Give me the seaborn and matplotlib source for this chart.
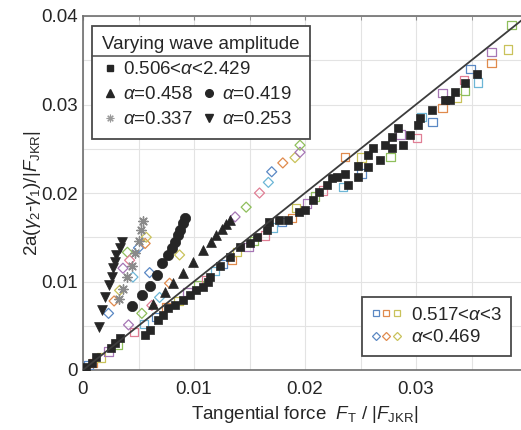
import numpy as np
import pandas as pd
import seaborn as sns
import matplotlib.pyplot as plt
from matplotlib.lines import Line2D
from matplotlib.ticker import MultipleLocator, FuncFormatter
from matplotlib.legend_handler import HandlerTuple

# ---- data ----
# filled squares, 0.506<alpha<2.429
sq_x = [0.0003, 0.0008, 0.0012, 0.0025, 0.0029, 0.0033, 0.0056, 0.006, 0.0068, 0.0072,
        0.0077, 0.0083, 0.009, 0.0096, 0.0102, 0.0108, 0.0113, 0.0114, 0.0123, 0.0132,
        0.0141, 0.015, 0.0157, 0.0166, 0.0168, 0.0177, 0.0185, 0.0195, 0.02, 0.0207,
        0.0213, 0.022, 0.0224, 0.0229, 0.0239, 0.0236, 0.0248, 0.0248, 0.0257, 0.0257,
        0.0261, 0.0268, 0.0272, 0.0278, 0.0278, 0.0284, 0.0288, 0.0295, 0.0302, 0.0304,
        0.0314, 0.0326, 0.0331, 0.0335, 0.0344, 0.0355]
sq_y = [0.0003, 0.0008, 0.0015, 0.0025, 0.003, 0.0036, 0.004, 0.0045, 0.0056, 0.0062,
        0.007, 0.0073, 0.0079, 0.0085, 0.009, 0.0094, 0.01, 0.0105, 0.0117, 0.0128,
        0.0139, 0.0143, 0.015, 0.0158, 0.0167, 0.0169, 0.0169, 0.0179, 0.0181, 0.0192,
        0.0201, 0.0209, 0.0217, 0.0218, 0.0209, 0.0222, 0.0218, 0.0231, 0.0229, 0.0243,
        0.0251, 0.0237, 0.0254, 0.0251, 0.0263, 0.0273, 0.0254, 0.0266, 0.0277, 0.0285,
        0.0294, 0.0305, 0.0305, 0.0314, 0.0324, 0.0335]

# filled triangles up, alpha=0.458
tri_x = [0.0063, 0.0074, 0.0081, 0.009, 0.0099, 0.0108, 0.0115, 0.012, 0.0125, 0.0129, 0.0132]
tri_y = [0.0075, 0.0088, 0.0098, 0.011, 0.0122, 0.0136, 0.0145, 0.0152, 0.0159, 0.0165, 0.017]

# filled circles, alpha=0.419
cir_x = [0.0044, 0.0053, 0.006, 0.0067, 0.0071, 0.0077, 0.008, 0.0083, 0.0086, 0.0087, 0.009, 0.0092]
cir_y = [0.0072, 0.0085, 0.0095, 0.0107, 0.0121, 0.013, 0.0138, 0.0145, 0.0153, 0.0158, 0.0166, 0.0172]

# asterisks, alpha=0.337
ast_x = [0.0032, 0.0036, 0.004, 0.0044, 0.0047, 0.005, 0.0052, 0.0054]
ast_y = [0.008, 0.0092, 0.0105, 0.0118, 0.0132, 0.0146, 0.0158, 0.0168]

# filled triangles down, alpha=0.253
tdn_x = [0.0014, 0.0017, 0.002, 0.0023, 0.0026, 0.0027, 0.0029, 0.003, 0.0033, 0.0035]
tdn_y = [0.0049, 0.0068, 0.0083, 0.0096, 0.0105, 0.0115, 0.0122, 0.013, 0.0138, 0.0145]

# open squares, 0.517<alpha<3
osq_x = [0.0005, 0.0009, 0.0016, 0.0023, 0.0031, 0.0046, 0.0055, 0.0066, 0.0075, 0.0086,
         0.0094, 0.0104, 0.0111, 0.0119, 0.0126, 0.0134, 0.0139, 0.0149, 0.0154, 0.0164,
         0.0171, 0.0179, 0.0188, 0.0192, 0.0202, 0.0209, 0.0216,
         0.0234, 0.0251, 0.0236, 0.0251, 0.0286, 0.0277, 0.0301, 0.0305, 0.0315, 0.0324,
         0.0337, 0.0324, 0.0344, 0.0343, 0.0356, 0.0349, 0.0368, 0.0383, 0.0368, 0.0386]
osq_y = [0.0006, 0.0008, 0.0014, 0.0021, 0.0029, 0.0043, 0.0052, 0.006, 0.0071, 0.0078,
         0.0088, 0.0096, 0.0102, 0.0112, 0.012, 0.0124, 0.0133, 0.0139, 0.0146, 0.0152,
         0.0161, 0.0167, 0.0172, 0.0183, 0.0188, 0.0196, 0.0203,
         0.0207, 0.0222, 0.0241, 0.024, 0.0266, 0.0241, 0.0262, 0.0286, 0.028, 0.0296,
         0.0307, 0.0313, 0.0316, 0.0328, 0.0325, 0.034, 0.0347, 0.0362, 0.0359, 0.039]

# open diamonds, alpha<0.469
dia_x = [0.0023, 0.0028, 0.0033, 0.0036, 0.004, 0.0042, 0.0045, 0.005, 0.0056, 0.0057,
         0.0041, 0.0053, 0.0062, 0.0069, 0.006, 0.0078, 0.0087,
         0.0137, 0.0147, 0.0159, 0.0167, 0.017, 0.018, 0.0191, 0.01955, 0.01955]
dia_y = [0.0064, 0.0078, 0.009, 0.0115, 0.0133, 0.0124, 0.0105, 0.0138, 0.0143, 0.015,
         0.0051, 0.0064, 0.0073, 0.0082, 0.011, 0.0098, 0.013,
         0.0173, 0.0184, 0.02, 0.0212, 0.0224, 0.0234, 0.024, 0.0246, 0.0254]

# y = x reference line
ref_x = [0.0, 0.04]
ref_y = [0.0, 0.04]

x_ticks = [0, 0.01, 0.02, 0.03]
y_ticks = [0, 0.01, 0.02, 0.03, 0.04]

# ---- style ----
sns.set_style("white")
plt.rcParams['font.family'] = ['Liberation Sans', 'DejaVu Sans']
plt.rcParams['mathtext.fontset'] = 'custom'
plt.rcParams['mathtext.rm'] = 'Liberation Sans'
plt.rcParams['mathtext.it'] = 'Liberation Sans:italic'
plt.rcParams['mathtext.bf'] = 'Liberation Sans:bold'
FS = 13.5
dark = '#262626'
pal = ['#5a88c4', '#e08a4c', '#c9c25a', '#a676b5', '#8fbf5c', '#e07f95', '#6cb6d6']

fig = plt.figure(figsize=(5.21, 4.30), dpi=100)
ax = fig.add_axes([83 / 521, 60 / 430, 444 / 521, 354 / 430])

ax.grid(True, which='both', color='#e3e3e3', lw=0.8)
ax.set_axisbelow(True)

sns.lineplot(x=ref_x, y=ref_y, ax=ax, color='#3c3c3c', lw=1.3, zorder=5)

def open_pts(xs, ys, marker, s):
    df = pd.DataFrame({'x': xs, 'y': ys})
    df['c'] = [i % len(pal) for i in range(len(df))]
    for k, g in df.groupby('c'):
        sns.scatterplot(data=g, x='x', y='y', ax=ax, marker=marker, s=s,
                        facecolor='none', edgecolor=pal[k], linewidth=0.9, zorder=3)

open_pts(osq_x, osq_y, 's', 36)
open_pts(dia_x, dia_y, 'D', 26)

sns.scatterplot(x=sq_x, y=sq_y, ax=ax, marker='s', s=40, color=dark, edgecolor=dark, linewidth=0.5, zorder=4)
sns.scatterplot(x=tri_x, y=tri_y, ax=ax, marker='^', s=50, color=dark, edgecolor=dark, linewidth=0.5, zorder=4)
sns.scatterplot(x=cir_x, y=cir_y, ax=ax, marker='o', s=55, color=dark, edgecolor=dark, linewidth=0.5, zorder=4)
sns.scatterplot(x=ast_x, y=ast_y, ax=ax, marker=(8, 2, 0), s=45, color='#8a8a8a', linewidth=1.0, zorder=4)
sns.scatterplot(x=tdn_x, y=tdn_y, ax=ax, marker='v', s=50, color=dark, edgecolor=dark, linewidth=0.5, zorder=4)

ax.set_xlim(0, 0.04)
ax.set_ylim(0, 0.04)
ax.xaxis.set_major_locator(MultipleLocator(0.01))
ax.xaxis.set_minor_locator(MultipleLocator(0.005))
ax.yaxis.set_major_locator(MultipleLocator(0.01))
ax.yaxis.set_minor_locator(MultipleLocator(0.005))
fmt = FuncFormatter(lambda v, p: '0' if abs(v) < 1e-12 else f'{v:g}')
ax.xaxis.set_major_formatter(fmt)
ax.yaxis.set_major_formatter(fmt)
ax.set_xticks(x_ticks)
ax.set_yticks(y_ticks)
ax.tick_params(which='both', direction='in', length=3, color='#888888', labelsize=FS,
               labelcolor=dark, top=True, right=True)
ax.tick_params(axis='x', pad=8)
for sp in ax.spines.values():
    sp.set_color('#6e6e6e')
    sp.set_linewidth(1.2)

ax.set_xlabel(r'Tangential force  $F_{\rm T}$ / $|F_{\rm JKR}|$', fontsize=FS, color=dark, labelpad=4)
ax.set_ylabel(r'2a($\gamma_2$-$\gamma_1$)/|$F_{\rm JKR}$|', fontsize=FS, color=dark, labelpad=-1)

# ---- legend 1 ----
h1 = [Line2D([], [], ls='none', marker='s', ms=4.5, color=dark),
      Line2D([], [], ls='none', marker='^', ms=5.5, color=dark),
      Line2D([], [], ls='none', marker=(8, 2, 0), ms=5.5, color='#9a9a9a', mew=0.8),
      Line2D([], [], ls='none', marker='none'),
      Line2D([], [], ls='none', marker='o', ms=5.5, color=dark),
      Line2D([], [], ls='none', marker='v', ms=5.5, color=dark)]
l1 = [r'0.506<$\alpha$<2.429', r'$\alpha$=0.458', r'$\alpha$=0.337', '',
      r'$\alpha$=0.419', r'$\alpha$=0.253']
leg1 = ax.legend(h1, l1, ncol=2, title='Varying wave amplitude', title_fontsize=FS,
                 fontsize=FS, loc='upper left', bbox_to_anchor=(0.02, 0.972),
                 borderaxespad=0, handlelength=0.8, handletextpad=0.3,
                 columnspacing=-2.6, labelspacing=0.42, borderpad=0.55,
                 fancybox=False, framealpha=1, edgecolor='#4a4a4a', alignment='left')
leg1.get_frame().set_linewidth(1.3)
for t in leg1.get_texts():
    t.set_color(dark)
leg1.get_title().set_color(dark)
ax.add_artist(leg1)

# ---- legend 2 ----
sq_h = tuple(Line2D([], [], ls='none', marker='s', ms=5, mfc='none', mec=c, mew=0.9) for c in pal[:3])
di_h = tuple(Line2D([], [], ls='none', marker='D', ms=4.5, mfc='none', mec=c, mew=0.9) for c in pal[:3])
leg2 = ax.legend([sq_h, di_h], [r'0.517<$\alpha$<3', r'$\alpha$<0.469'], fontsize=FS,
                 handler_map={tuple: HandlerTuple(ndivide=None, pad=0.1)},
                 loc='lower right', bbox_to_anchor=(0.964, 0.04), borderaxespad=0,
                 handlelength=1.6, handletextpad=0.5, labelspacing=0.3, borderpad=0.5,
                 fancybox=False, framealpha=1, edgecolor='#4a4a4a')
leg2.get_frame().set_linewidth(1.3)
for t in leg2.get_texts():
    t.set_color(dark)

# separator under the legend title
fig.canvas.draw()
r = fig.canvas.get_renderer()
fb = leg1.get_frame().get_window_extent(r)
tb = leg1.get_title().get_window_extent(r)
W, H = fig.bbox.width, fig.bbox.height
ysep = (tb.y0 - 3) / H
fig.add_artist(Line2D([fb.x0 / W, fb.x1 / W], [ysep, ysep], color='#4a4a4a', lw=1.1,
                      transform=fig.transFigure, zorder=10))

fig.savefig('out.png', dpi=100)
